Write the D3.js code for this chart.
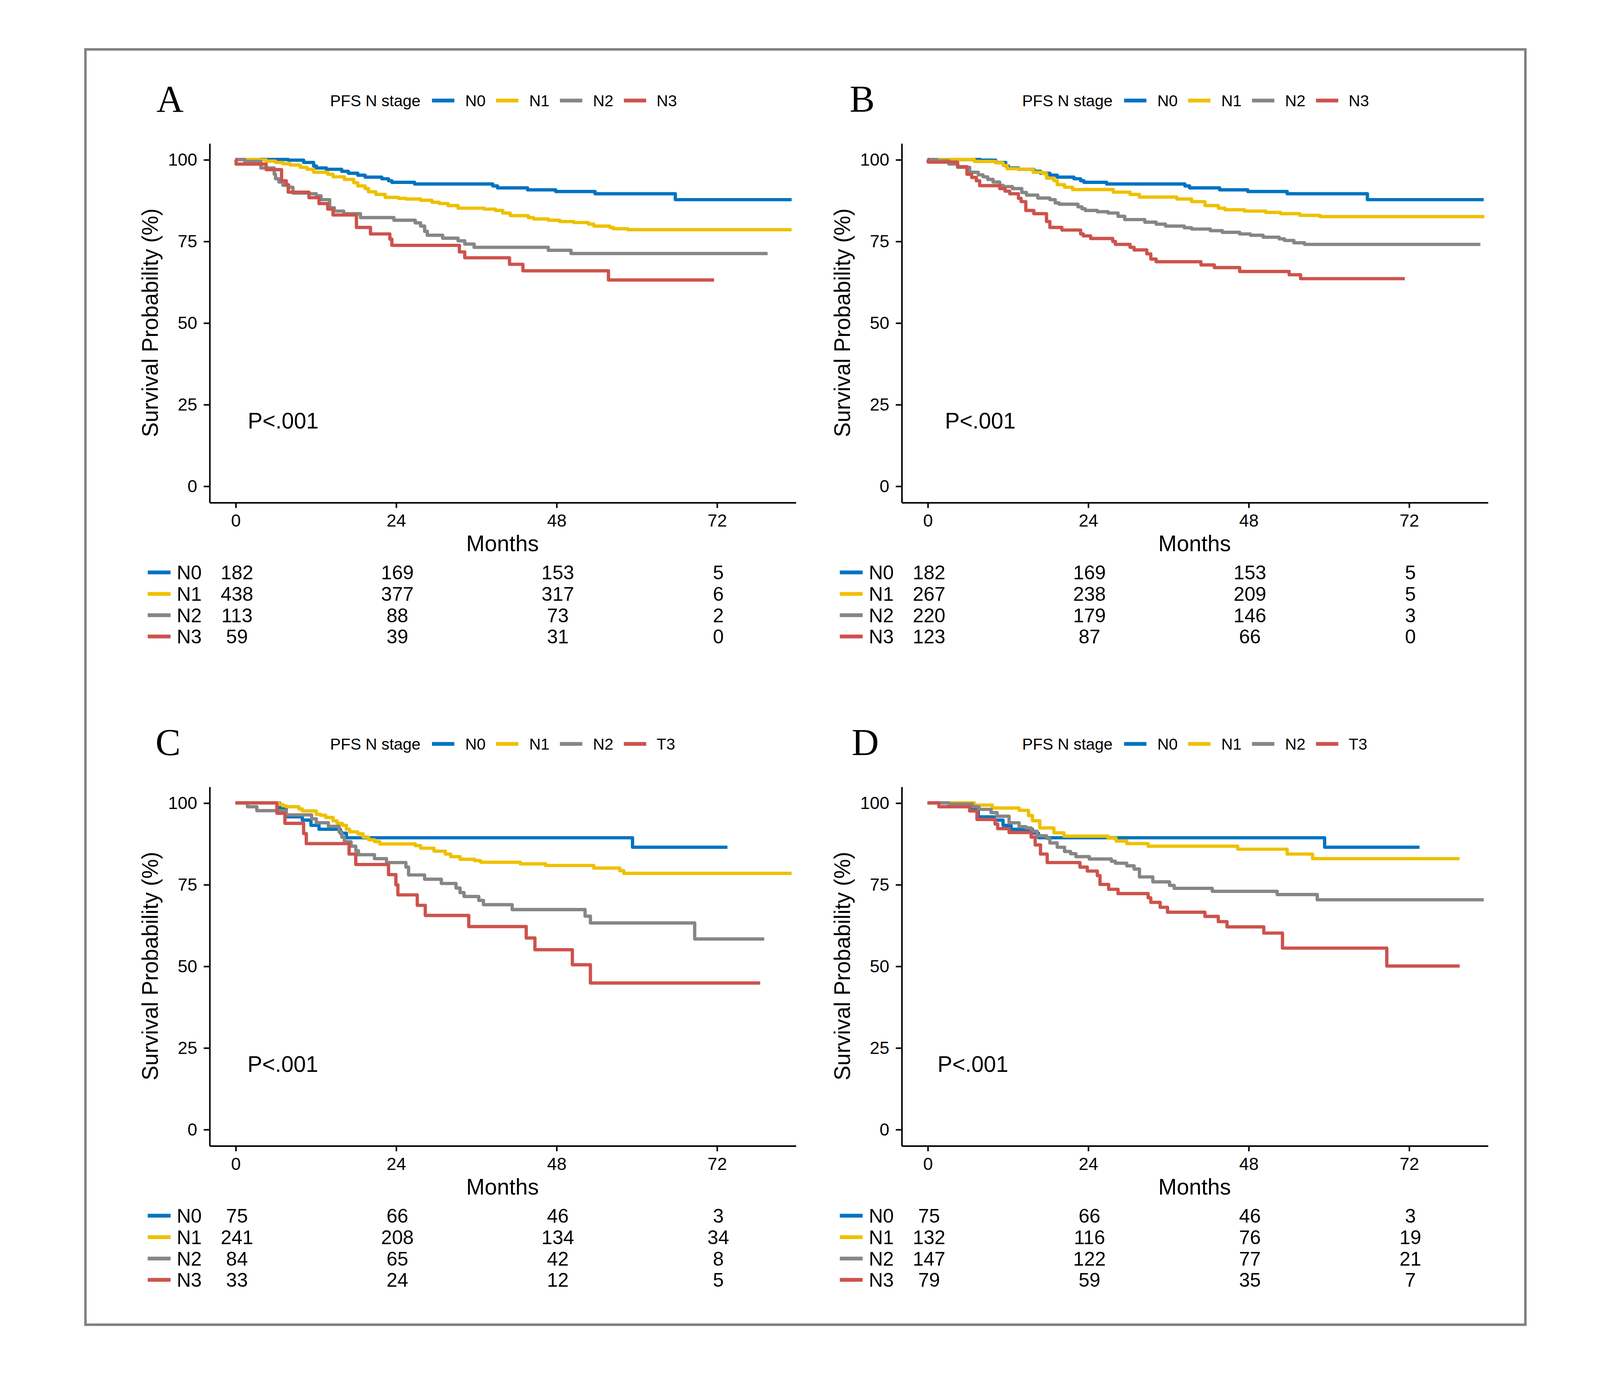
<!DOCTYPE html>
<html><head><meta charset="utf-8">
<script src="https://cdn.jsdelivr.net/npm/d3@7"></script>
<style>html,body{margin:0;padding:0;background:#fff;}</style>
</head><body>
<svg id="chart"></svg>
<script>
// ---------- data ----------
const groups = ["N0","N1","N2","N3"];
const legendLabelsAB = ["N0","N1","N2","N3"];
const legendLabelsCD = ["N0","N1","N2","T3"];
const colors = ["#0073C2","#EFC000","#868686","#CD534C"];
const xTicks = [0,24,48,72];
const yTicks = [0,25,50,75,100];
const riskTimes = [0,24,48,72];
const panelLabels = ["A","B","C","D"];
const pText = "P<.001";

// Kaplan–Meier steps [month, survival %]
const N0_AB = [[0,100],[7.9,99.8],[10.2,99.1],[11.7,98.0],[12.1,97.4],[13.6,97.0],[15.9,96.4],[16.9,95.8],[18.3,95.2],[19.4,94.6],[21.9,94.1],[22.9,93.5],[23.4,93.0],[26.8,92.5],[38.5,91.9],[39.2,91.3],[43.7,90.7],[47.9,90.2],[53.8,89.5],[65.8,87.7],[83.2,87.7]];
const A_N1 = [[0,100],[3.6,99.9],[4.6,99.5],[6.0,99.1],[7.1,98.7],[8.2,98.3],[9.7,97.6],[10.7,97.0],[11.7,96.1],[13.8,95.5],[14.6,94.7],[16.3,93.9],[17.7,92.9],[18.3,91.9],[19.4,91.1],[19.9,90.1],[21.0,89.3],[22.4,88.4],[24.4,88.1],[25.5,87.9],[27.7,87.5],[29.4,86.9],[30.5,86.5],[31.8,85.9],[33.3,85.1],[37.2,84.8],[38.9,84.4],[40.0,83.6],[41.1,82.8],[43.8,82.2],[44.6,81.8],[46.8,81.4],[48.5,81.0],[50.6,80.7],[52.8,80.2],[53.6,79.6],[56.0,79.2],[56.5,78.8],[58.7,78.5],[83.2,78.5]];
const A_N2 = [[0,100],[1.4,99.4],[3.8,97.4],[5.8,95.5],[6.0,94.1],[6.5,93.1],[7.1,92.1],[8.0,91.5],[8.6,89.7],[11.0,89.5],[12.1,88.9],[12.8,87.7],[14.1,85.2],[14.8,84.2],[16.2,83.4],[18.7,82.2],[23.7,81.4],[26.9,80.6],[27.7,79.6],[28.3,78.0],[28.7,76.8],[31.0,75.9],[33.3,75.1],[34.3,74.1],[35.7,73.1],[46.8,72.2],[50.2,71.2],[79.6,71.2]];
const A_N3 = [[0,100],[0.1,98.6],[4.6,96.9],[6.9,93.5],[7.6,92.3],[7.9,90.0],[11.0,88.3],[12.5,86.5],[13.8,84.8],[14.6,83.0],[18.1,79.2],[20.2,77.2],[23.1,75.6],[23.4,73.7],[33.5,71.7],[34.3,69.9],[41.0,67.9],[43.0,65.9],[55.8,63.1],[71.6,63.1]];
const B_N1 = [[0,100],[7.0,99.4],[10.2,99.0],[11.3,98.2],[11.9,97.2],[13.6,97.0],[15.8,96.1],[17.2,95.7],[17.8,94.3],[18.9,93.5],[19.4,92.3],[20.5,91.5],[21.7,90.8],[27.8,90.0],[30.3,89.3],[31.7,88.5],[37.3,87.9],[39.5,87.1],[41.5,85.9],[43.5,85.1],[44.5,84.6],[47.4,84.2],[50.6,83.8],[52.8,83.4],[55.7,82.9],[58.7,82.5],[83.3,82.5]];
const B_N2 = [[0,100],[1.4,99.6],[3.2,98.6],[4.5,97.6],[6.3,96.1],[7.6,95.3],[8.3,94.7],[9.0,93.9],[9.8,93.1],[10.8,92.1],[11.3,91.7],[12.7,91.1],[14.1,89.9],[14.8,89.1],[16.5,88.2],[18.3,87.7],[19.1,86.7],[19.7,86.3],[22.5,85.5],[23.1,84.9],[23.6,84.4],[25.4,84.0],[27.0,83.6],[28.5,82.6],[29.5,81.6],[32.5,80.8],[34.2,80.2],[35.6,79.6],[38.4,79.1],[39.5,78.7],[42.3,78.2],[44.1,77.7],[46.7,77.2],[48.3,76.8],[50.2,76.2],[52.6,75.7],[53.4,75.2],[54.8,74.5],[56.4,74.0],[82.7,74.0]];
const B_N3 = [[0,100],[0.1,99.2],[4.5,97.8],[5.9,95.5],[6.6,94.5],[7.3,93.5],[7.8,92.0],[10.8,91.1],[11.6,90.3],[12.3,89.5],[13.6,88.1],[14.0,87.1],[14.7,84.4],[15.9,83.4],[17.8,81.0],[18.3,79.2],[20.1,78.4],[22.9,77.2],[23.3,76.6],[24.4,75.8],[27.7,74.9],[28.1,74.0],[30.3,73.1],[30.9,72.3],[32.8,71.1],[33.4,69.5],[34.2,68.7],[40.9,67.7],[42.9,66.9],[46.7,65.7],[54.1,64.7],[55.8,63.5],[71.4,63.5]];
const N0_CD = [[0,100],[6.6,98.3],[7.6,95.7],[10.0,94.7],[11.3,93.1],[12.5,91.9],[15.7,90.7],[16.6,89.3],[59.4,86.4],[73.6,86.4]];
const C_N1 = [[0,100],[6.5,99.5],[7.1,99.1],[7.6,98.8],[9.5,98.1],[10.0,97.5],[12.1,96.5],[12.7,96.2],[13.5,95.5],[14.6,94.5],[15.2,93.7],[16.0,93.1],[16.6,91.9],[17.1,91.1],[18.3,90.5],[19.1,89.5],[19.9,88.7],[20.8,88.1],[21.6,87.4],[26.9,86.9],[27.7,86.1],[29.7,85.2],[31.4,84.3],[32.2,83.5],[33.6,82.7],[35.8,82.3],[36.7,81.8],[42.6,81.3],[46.4,80.8],[53.6,80.0],[57.5,79.2],[58.1,78.4],[83.2,78.4]];
const C_N2 = [[0,100],[1.8,98.8],[3.2,97.6],[7.6,96.3],[11.4,95.1],[12.1,93.9],[13.9,92.8],[15.5,91.1],[15.9,89.5],[16.3,88.1],[17.3,86.7],[18.0,85.3],[18.4,84.1],[20.8,82.9],[22.6,81.7],[25.5,80.3],[25.9,77.9],[28.3,76.6],[30.8,75.3],[33.0,73.9],[33.6,72.5],[34.2,71.3],[36.4,70.1],[37.1,68.8],[41.4,67.3],[52.3,65.3],[53.1,63.2],[68.7,58.3],[79.1,58.3]];
const C_N3 = [[0,100],[6.2,96.8],[7.4,93.7],[10.2,90.6],[10.6,87.5],[17.0,84.3],[18.0,81.1],[22.9,78.0],[24.0,74.9],[24.3,71.8],[27.2,68.6],[28.4,65.5],[34.9,62.1],[43.5,58.6],[44.8,55.0],[50.4,50.4],[53.1,44.8],[78.5,44.8]];
const D_N1 = [[0,100],[7.0,99.3],[9.7,98.4],[13.7,97.7],[15.1,96.1],[15.7,94.5],[16.8,92.3],[18.9,90.8],[20.4,89.8],[27.0,89.2],[28.2,88.3],[29.8,87.5],[33.0,86.7],[46.4,85.8],[53.8,84.3],[57.6,82.9],[79.6,82.9]];
const D_N2 = [[0,100],[3.2,99.6],[6.7,98.8],[7.7,98.0],[9.5,97.0],[10.4,95.9],[12.2,93.9],[13.7,92.7],[14.7,92.3],[15.5,91.3],[16.4,89.9],[17.8,89.1],[18.3,87.7],[19.4,86.4],[20.5,85.1],[21.4,84.4],[22.2,83.5],[24.2,82.8],[27.5,82.1],[28.1,81.5],[29.8,80.7],[30.9,79.7],[31.7,77.3],[33.7,75.8],[36.2,74.7],[36.9,73.8],[42.6,72.9],[52.3,71.9],[58.3,70.3],[83.2,70.3]];
const D_N3 = [[0,100],[1.7,98.8],[6.3,97.5],[7.4,94.9],[10.1,93.5],[10.5,92.1],[12.2,90.9],[15.5,89.5],[16.1,87.1],[16.9,84.3],[17.9,81.7],[22.8,80.3],[23.9,79.1],[25.4,77.7],[25.8,75.0],[27.1,73.5],[28.5,72.2],[33.0,70.9],[33.4,69.5],[34.8,68.0],[35.9,66.5],[41.5,65.2],[43.5,63.6],[44.8,62.0],[50.3,60.1],[53.1,55.5],[68.7,50.0],[79.6,50.0]];

// numbers at risk (rows N0..N3, columns riskTimes)
const riskA = [[182,169,153,5],[438,377,317,6],[113,88,73,2],[59,39,31,0]];
const riskB = [[182,169,153,5],[267,238,209,5],[220,179,146,3],[123,87,66,0]];
const riskC = [[75,66,46,3],[241,208,134,34],[84,65,42,8],[33,24,12,5]];
const riskD = [[75,66,46,3],[132,116,76,19],[147,122,77,21],[79,59,35,7]];

// ---------- layout ----------
const W = 4134, H = 3543;
const VW = 1568.9, VH = 1344.6;
const SANS = "'Liberation Sans', Arial, sans-serif";
const SERIF = "'Liberation Serif', 'Times New Roman', serif";

const svg = d3.select("#chart").attr("width", W).attr("height", H)
  .attr("viewBox", `0 0 ${VW} ${VH}`);
svg.append("rect").attr("width", VW).attr("height", VH).attr("fill", "#fff");
svg.append("rect").attr("x", 83).attr("y", 48).attr("width", 1399).attr("height", 1239)
  .attr("fill", "none").attr("stroke", "#808080").attr("stroke-width", 2.4);

const panels = [
  {dx: 0,     dy: 0,   label: panelLabels[0], labelX: 152,   curves: [N0_AB, A_N1, A_N2, A_N3], risk: riskA, leg: legendLabelsAB, pX: 1.85},
  {dx: 672.4, dy: 0,   label: panelLabels[1], labelX: 153,   curves: [N0_AB, B_N1, B_N2, B_N3], risk: riskB, leg: legendLabelsAB, pX: 2.6},
  {dx: 0,     dy: 625, label: panelLabels[2], labelX: 151,   curves: [N0_CD, C_N1, C_N2, C_N3], risk: riskC, leg: legendLabelsCD, pX: 1.8},
  {dx: 672.4, dy: 625, label: panelLabels[3], labelX: 155,   curves: [N0_CD, D_N1, D_N2, D_N3], risk: riskD, leg: legendLabelsCD, pX: 1.5}
];

function drawPanel(p) {
  const g = svg.append("g").attr("transform", `translate(${p.dx},${p.dy})`);
  const x = d3.scaleLinear().domain([-3.9, 83.8]).range([203.4, 773]);
  const y = d3.scaleLinear().domain([-5, 105]).range([488, 139.1]);

  // panel letter
  g.append("text").attr("x", p.labelX).attr("y", 108.7)
    .attr("font-family", SERIF).attr("font-size", 36.6).attr("fill", "#000").text(p.label);

  // legend
  g.append("text").attr("x", 320.7).attr("y", 103.2).attr("font-family", SANS)
    .attr("font-size", 15.5).attr("fill", "#000").text("PFS N stage");
  const legKeyX = [419.7, 481.9, 544.0, 606.1];
  const legTxtX = [452.0, 514.1, 576.1, 637.9];
  p.leg.forEach((lab, i) => {
    g.append("line").attr("x1", legKeyX[i]).attr("x2", legKeyX[i] + 21.7)
      .attr("y1", 97.7).attr("y2", 97.7).attr("stroke", colors[i]).attr("stroke-width", 3.7);
    g.append("text").attr("x", legTxtX[i]).attr("y", 103.2).attr("font-family", SANS)
      .attr("font-size", 15.5).attr("fill", "#000").text(lab);
  });

  // axes
  const gy = g.append("g").attr("transform", "translate(203.4,0)")
    .call(d3.axisLeft(y).tickValues(yTicks).tickSize(5.5).tickSizeOuter(0).tickPadding(6.3));
  const gx = g.append("g").attr("transform", "translate(0,488)")
    .call(d3.axisBottom(x).tickValues(xTicks).tickSize(5.5).tickSizeOuter(0).tickPadding(6));
  [gx, gy].forEach(a => {
    a.select(".domain").attr("stroke", "#000").attr("stroke-width", 1.5);
    a.selectAll(".tick line").attr("stroke", "#000").attr("stroke-width", 1.5);
    a.selectAll(".tick text").attr("font-family", SANS).attr("font-size", 17).attr("fill", "#000");
  });

  // axis titles
  g.append("text").attr("x", (203.4 + 773) / 2).attr("y", 535.5).attr("text-anchor", "middle")
    .attr("font-family", SANS).attr("font-size", 21.5).attr("fill", "#000").text("Months");
  g.append("text").attr("transform", `translate(153.5,${(139.1 + 488) / 2}) rotate(-90)`)
    .attr("text-anchor", "middle").attr("font-family", SANS).attr("font-size", 21.5)
    .attr("fill", "#000").text("Survival Probability (%)");

  // curves
  const line = d3.line().x(d => x(d[0])).y(d => y(d[1])).curve(d3.curveStepAfter);
  p.curves.forEach((c, i) => {
    g.append("path").datum(c).attr("d", line).attr("fill", "none")
      .attr("stroke", colors[i]).attr("stroke-width", 3.2).attr("stroke-linejoin", "round");
  });

  // p value
  g.append("text").attr("x", x(p.pX)).attr("y", y(20)).attr("dy", "0.36em")
    .attr("font-family", SANS).attr("font-size", 21.5).attr("fill", "#000").text(pText);

  // risk table
  const rowY = [556.1, 577.0, 597.7, 618.4];
  groups.forEach((grp, i) => {
    g.append("line").attr("x1", 143.5).attr("x2", 165.7).attr("y1", rowY[i]).attr("y2", rowY[i])
      .attr("stroke", colors[i]).attr("stroke-width", 3.7);
    g.append("text").attr("x", 196).attr("y", rowY[i]).attr("dy", "0.36em").attr("text-anchor", "end")
      .attr("font-family", SANS).attr("font-size", 19).attr("fill", "#000").text(grp);
    p.risk[i].forEach((n, j) => {
      g.append("text").attr("x", x(riskTimes[j]) + 1.5).attr("y", rowY[i]).attr("dy", "0.36em")
        .attr("text-anchor", "middle").attr("font-family", SANS).attr("font-size", 19)
        .attr("fill", "#000").text(n);
    });
  });
}
panels.forEach(drawPanel);
</script>
</body></html>
